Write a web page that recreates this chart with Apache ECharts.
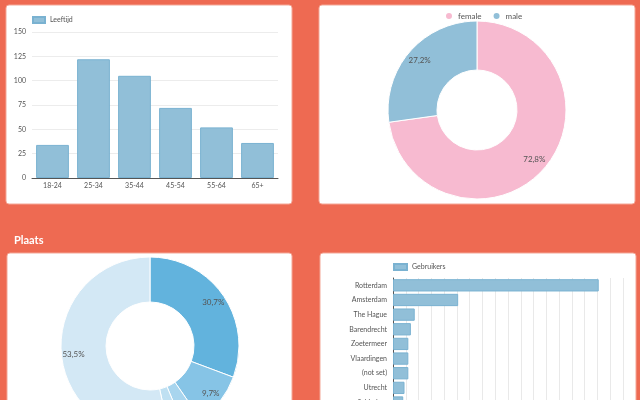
<!DOCTYPE html>
<html><head><meta charset="utf-8">
<script src="https://cdn.jsdelivr.net/npm/echarts@6/dist/echarts.min.js"></script>
<style>html,body{margin:0;padding:0;background:#ee6a52;overflow:hidden}#c{width:640px;height:400px}</style>
</head><body><div id="c"></div>
<script>
// Leeftijd (age) bar chart
const ageCategories = ['18-24', '25-34', '35-44', '45-54', '55-64', '65+'];
const ageValues = [34, 122, 105, 72, 52, 36];
const ageTickMin = 0, ageTickMax = 150, ageTickStep = 25;

// Gender donut
const genderNames = ['female', 'male'];
const genderShares = [72.8, 27.2];

// Plaats donut
const placeNames = ['Rotterdam', 'Amsterdam', 'The Hague', 'Barendrecht', 'Overig'];
const placeShares = [30.7, 9.7, 3.3, 2.8, 53.5];

// Gebruikers per plaats (horizontal bars)
const cityNames = ['Rotterdam', 'Amsterdam', 'The Hague', 'Barendrecht', 'Zoetermeer', 'Vlaardingen', '(not set)', 'Utrecht', 'Schiedam', 'Delft'];
const cityUsers = [161, 51, 17, 14, 12, 12, 12, 9, 8, 7];
const cityTickMin = 0, cityTickMax = 180, cityTickStep = 10;

const font = 'Lato, "Open Sans", sans-serif';
const txt = '#555';
const barFill = '#91bfd8', barBorder = '#7ab2d1';
const genderColors = ['#f7bad0', '#91bfd8'];
const placeColors = ['#62b3dd', '#86c4e6', '#a8d5ee', '#bfe0f2', '#d3e8f5'];
const pct = p => p.value.toFixed(1).replace('.', ',') + '%';

function panel(x, y, w, h) {
  return { type: 'rect', z: -10, silent: true, shape: { x: x, y: y, width: w, height: h, r: 3 },
    style: { fill: '#fff', stroke: '#f4a797', lineWidth: 1 } };
}

const chart = echarts.init(document.getElementById('c'), null, { renderer: 'canvas' });
chart.setOption({
  animation: false,
  backgroundColor: '#ee6a52',
  textStyle: { fontFamily: font },
  graphic: { elements: [panel(6, 5, 286, 199), panel(319, 5, 316, 199), panel(7, 253, 285, 160), panel(320, 253, 316, 160)] },
  title: { text: 'Plaats', left: 14, top: 235, padding: 0, textStyle: { color: '#fff', fontSize: 11, fontWeight: 'bold', fontFamily: font } },
  legend: [
    { data: ['Leeftijd'], left: 32, top: 16, padding: 0, icon: 'rect', itemWidth: 12, itemHeight: 6, textStyle: { fontSize: 7, color: txt, fontFamily: font } },
    { data: genderNames, left: 444, top: 11, padding: 0, icon: 'circle', itemWidth: 8, itemHeight: 8, itemGap: 10, textStyle: { fontSize: 8, color: txt, fontFamily: font } },
    { data: ['Gebruikers'], left: 393, top: 263, padding: 0, icon: 'rect', itemWidth: 13, itemHeight: 6, textStyle: { fontSize: 7, color: txt, fontFamily: font } }
  ],
  grid: [
    { left: 32, top: 32, width: 246, height: 146, containLabel: false, outerBoundsMode: 'none' },
    { left: 393, top: 278, width: 230, height: 146.5, containLabel: false, outerBoundsMode: 'none' }
  ],
  xAxis: [
    { gridIndex: 0, type: 'category', data: ageCategories, axisLine: { lineStyle: { color: '#555' } }, axisTick: { show: false },
      axisLabel: { fontSize: 7, color: txt, margin: 4, fontFamily: font }, splitLine: { show: false } },
    { gridIndex: 1, type: 'value', min: cityTickMin, max: cityTickMax, interval: cityTickStep, axisLabel: { show: false },
      axisLine: { show: false }, axisTick: { show: false }, splitLine: { show: true, lineStyle: { color: '#e9e9e9' } } }
  ],
  yAxis: [
    { gridIndex: 0, type: 'value', min: ageTickMin, max: ageTickMax, interval: ageTickStep, axisLine: { show: false }, axisTick: { show: false },
      axisLabel: { fontSize: 7, color: txt, margin: 6, fontFamily: font }, splitLine: { show: true, lineStyle: { color: '#ececec' } } },
    { gridIndex: 1, type: 'category', data: cityNames, inverse: true, axisLine: { show: true, lineStyle: { color: '#555' } }, axisTick: { show: false },
      axisLabel: { fontSize: 7, color: txt, margin: 6, fontFamily: font }, splitLine: { show: false } }
  ],
  series: [
    { type: 'bar', name: 'Leeftijd', xAxisIndex: 0, yAxisIndex: 0, data: ageValues, barCategoryGap: '20%',
      itemStyle: { color: barFill, borderColor: barBorder, borderWidth: 1 } },
    { type: 'bar', name: 'Gebruikers', xAxisIndex: 1, yAxisIndex: 1, data: cityUsers, barCategoryGap: '16%',
      itemStyle: { color: barFill, borderColor: barBorder, borderWidth: 1 } },
    { type: 'pie', name: 'gender', center: [477, 110], radius: [40, 89], startAngle: 90, clockwise: true, padAngle: 0,
      data: genderNames.map((n, i) => ({ name: n, value: genderShares[i], itemStyle: { color: genderColors[i] } })),
      label: { show: false }, labelLine: { show: false }, itemStyle: { borderColor: '#fff', borderWidth: 1 } },
    { type: 'pie', name: 'genderLabels', center: [477, 110], radius: [57, 89], startAngle: 90, clockwise: true, silent: true, legendHoverLink: false,
      data: genderNames.map((n, i) => ({ name: n, value: genderShares[i] })),
      itemStyle: { color: 'transparent', borderWidth: 0 }, labelLine: { show: false },
      label: { show: true, position: 'inside', formatter: pct, fontSize: 8, color: txt, fontFamily: font } },
    { type: 'pie', name: 'plaats', center: [150, 346], radius: [44, 89], startAngle: 90, clockwise: true, padAngle: 0,
      data: placeNames.map((n, i) => ({ name: n, value: placeShares[i], itemStyle: { color: placeColors[i] } })),
      label: { show: false }, labelLine: { show: false }, itemStyle: { borderColor: '#fff', borderWidth: 1 } },
    { type: 'pie', name: 'plaatsLabels', center: [150, 346], radius: [59, 89], startAngle: 90, clockwise: true, silent: true,
      data: placeNames.map((n, i) => ({ name: n, value: placeShares[i] })),
      itemStyle: { color: 'transparent', borderWidth: 0 }, labelLine: { show: false },
      label: { show: true, position: 'inside', formatter: pct, fontSize: 8, color: txt, fontFamily: font } }
  ]
});
</script>
</body></html>
